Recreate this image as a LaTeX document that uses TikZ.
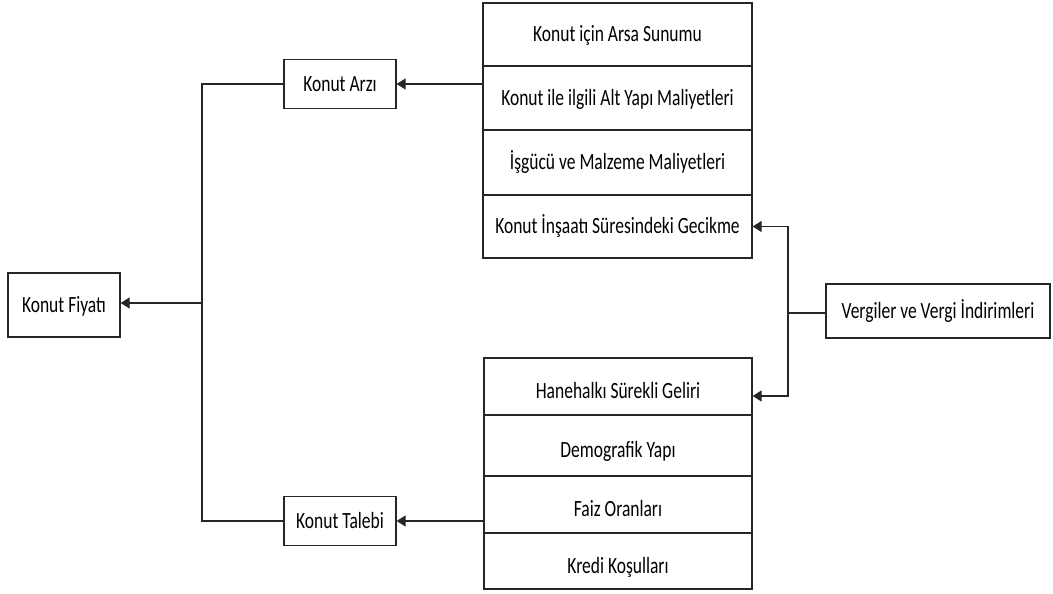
\documentclass[tikz,border=0pt]{standalone}
\usepackage{graphicx}
\usepackage{fontspec}
\setmainfont{Carlito}
\usetikzlibrary{arrows.meta}
\newcommand\talltext[1]{\scalebox{1}[1.33]{#1}}
\tikzset{
  box/.style={draw=black!85, line width=1.3pt, rectangle, inner sep=0pt,
    font=\fontsize{17.5}{20}\selectfont, text height=15pt, text depth=0pt, align=center},
  lowbox/.style={box, text height=25pt},
  conn/.style={draw=black!85, line width=1.3pt},
  arr/.style={conn, -{Triangle[length=9pt,width=11pt]}}
}
\begin{document}
\begin{tikzpicture}[x=1pt,y=1pt]
\useasboundingbox (0,0) rectangle (1053,594);
% left side
\node[box, minimum width=112, minimum height=64] (fiyat) at (64,289) {\talltext{Konut Fiyatı}};
\node[box, minimum width=112, minimum height=49] (arz) at (340,510) {\talltext{Konut Arzı}};
\node[box, minimum width=112, minimum height=49] (talep) at (340,73) {\talltext{Konut Talebi}};
% upper stack
\node[box, minimum width=269, minimum height=63] (u1) at (617.5,559.5) {\talltext{Konut için Arsa Sunumu}};
\node[box, minimum width=269, minimum height=64] (u2) at (617.5,496) {\talltext{Konut ile ilgili Alt Yapı Maliyetleri}};
\node[box, minimum width=269, minimum height=65] (u3) at (617.5,431.5) {\talltext{İşgücü ve Malzeme Maliyetleri}};
\node[box, minimum width=269, minimum height=63] (u4) at (617.5,367.5) {\talltext{Konut İnşaatı Süresindeki Gecikme}};
% lower stack
\node[lowbox, minimum width=268, minimum height=57] (l1) at (618,207.5) {\talltext{Hanehalkı Sürekli Geliri}};
\node[lowbox, minimum width=268, minimum height=61] (l2) at (618,148.5) {\talltext{Demografik Yapı}};
\node[lowbox, minimum width=268, minimum height=57] (l3) at (618,89.5) {\talltext{Faiz Oranları}};
\node[lowbox, minimum width=268, minimum height=56] (l4) at (618,33) {\talltext{Kredi Koşulları}};
% right box
\node[box, minimum width=224, minimum height=54] (verg) at (938,283) {\talltext{Vergiler ve Vergi İndirimleri}};
% connectors
\draw[arr] (u2.west |- arz.east) -- (arz.east);
\draw[arr] (l3.west |- talep.east) -- (talep.east);
\coordinate (ft) at (202,291);
\draw[conn] (arz.west) -| (ft);
\draw[conn] (talep.west) -| (ft);
\draw[arr] (ft) -- (ft -| fiyat.east);
\coordinate (vtop) at (788,367.5);
\coordinate (vmid) at (788,281);
\coordinate (vbot) at (788,198);
\draw[conn] (verg.west |- vmid) -- (vmid);
\draw[arr] (vmid) -- (vtop) -- (u4.east);
\draw[arr] (vmid) -- (vbot) -- (vbot -| l1.east);
\end{tikzpicture}
\end{document}
